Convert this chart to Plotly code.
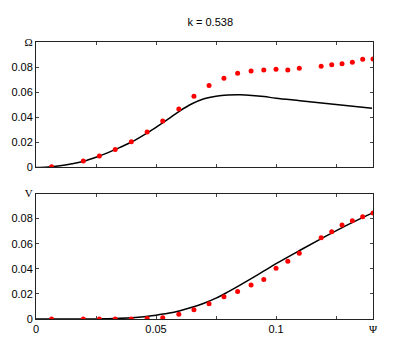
from plotly.subplots import make_subplots
from plotly.graph_objects import Scatter

# data
psi_pts = [0.0065, 0.0197, 0.0264, 0.033, 0.0397, 0.0463, 0.0528, 0.0595, 0.0658,
           0.0721, 0.0783, 0.084, 0.0896, 0.0949, 0.1, 0.1049, 0.1097,
           0.1188, 0.1232, 0.1275, 0.1318, 0.1361, 0.1404]
omega_pts = [0.0005, 0.0051, 0.0091, 0.0144, 0.0206, 0.0283, 0.0371, 0.0467, 0.0568,
             0.0654, 0.0712, 0.075, 0.0768, 0.0776, 0.0782, 0.0776, 0.079,
             0.0806, 0.0819, 0.0827, 0.0838, 0.0862, 0.0864]
v_pts = [0.0, 0.0, 0.0, 0.0, 0.0, 0.0003, 0.001, 0.0037, 0.0074,
         0.0121, 0.0177, 0.022, 0.027, 0.0315, 0.0405, 0.046, 0.0524,
         0.0648, 0.0696, 0.0749, 0.0783, 0.0815, 0.0844]

psi_line = [0, 0.005, 0.01, 0.015, 0.02, 0.025, 0.03, 0.035, 0.04, 0.045, 0.05, 0.055,
            0.06, 0.065, 0.07, 0.075, 0.08, 0.085, 0.09, 0.095, 0.1, 0.11, 0.12, 0.13, 0.14]
omega_line = [0, 0.0004, 0.0014, 0.003, 0.005, 0.0081, 0.0118, 0.016, 0.0205, 0.026, 0.032, 0.0385,
              0.0452, 0.0508, 0.0548, 0.0568, 0.0577, 0.0579, 0.0574, 0.0565, 0.0552, 0.0532, 0.0512, 0.0492, 0.0472]
v_line = [0, 0, 0, 0, 0, 0.0001, 0.0002, 0.0005, 0.001, 0.0018, 0.003, 0.0045,
          0.0066, 0.0093, 0.0126, 0.0166, 0.0216, 0.027, 0.0326, 0.0383, 0.0441, 0.0548, 0.0652, 0.0752, 0.0844]

xtickvals = [0, 0.025, 0.05, 0.075, 0.1, 0.125, 0.1404]
xticktext = ['0', '', '0.05', '', '0.1', '', '<span style="font-family:Liberation Serif">Ψ</span>']
ytickvals = [0, 0.02, 0.04, 0.06, 0.08, 0.1]

fig = make_subplots(rows=2, cols=1, vertical_spacing=0.094)

fig.add_trace(Scatter(x=psi_line, y=omega_line, mode='lines', line=dict(color='black', width=1.5, shape='spline')), row=1, col=1)
fig.add_trace(Scatter(x=psi_pts, y=omega_pts, mode='markers', marker=dict(color='red', size=5)), row=1, col=1)
fig.add_trace(Scatter(x=psi_line, y=v_line, mode='lines', line=dict(color='black', width=1.5, shape='spline')), row=2, col=1)
fig.add_trace(Scatter(x=psi_pts, y=v_pts, mode='markers', marker=dict(color='red', size=5)), row=2, col=1)

axis_style = dict(showline=True, linecolor='#222', linewidth=1, mirror='allticks',
                  ticks='inside', ticklen=3, tickcolor='#444', showgrid=False, zeroline=False,
                  tickfont=dict(size=11, color='black'))

fig.update_xaxes(range=[0, 0.1404], tickvals=xtickvals, **axis_style)
fig.update_xaxes(ticktext=['']*7, row=1, col=1)
fig.update_xaxes(ticktext=xticktext, row=2, col=1)
fig.update_yaxes(range=[0, 0.1], tickvals=ytickvals, **axis_style)
fig.update_yaxes(ticktext=['0', '0.02', '0.04', '0.06', '0.08', '<span style="font-family:Liberation Serif">Ω</span>'], row=1, col=1)
fig.update_yaxes(ticktext=['0', '0.02', '0.04', '0.06', '0.08', '<span style="font-family:Liberation Serif">V</span>'], row=2, col=1)

# page body adds an 8px offset, so margins are shifted to compensate
fig.update_layout(
    title=dict(text='k = 0.538', x=0.517, xref='paper', y=0.958, yanchor='middle', xanchor='center',
               font=dict(size=11, color='black')),
    font=dict(family='Liberation Sans, Arial, sans-serif', size=11, color='black'),
    showlegend=False,
    plot_bgcolor='white',
    paper_bgcolor='white',
    width=395,
    height=345,
    margin=dict(l=28, r=30, t=34, b=34, autoexpand=False),
)

fig.write_html('out.html')
